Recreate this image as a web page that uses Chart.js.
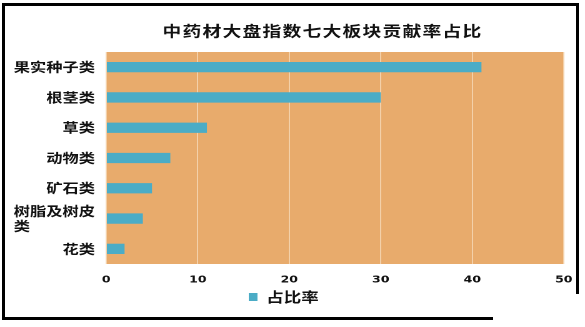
<!DOCTYPE html>
<html>
<head>
<meta charset="utf-8">
<script src="https://cdn.jsdelivr.net/npm/chart.js@4.4.1/dist/chart.umd.min.js"></script>
<style>
  html, body { margin: 0; padding: 0; background: #fff; width: 585px; height: 327px; overflow: hidden; }
  #frame { position: absolute; left: 2px; top: 3px; width: 571px; height: 311px; border: 3px solid #000; }
  #wrap { position: absolute; left: 0; top: 0; width: 468px; height: 327px; transform: scaleX(1.25); transform-origin: 0 0; }
  #corner { position: absolute; left: 493px; top: 294px; width: 92px; height: 33px; background: #fff; }
</style>
</head>
<body>
<div id="frame"></div>
<div id="wrap"><canvas id="chart"></canvas></div>
<div id="corner"></div>
<script>
const TITLE = '中药材大盘指数七大板块贡献率占比';
const SERIES_NAME = '占比率';
const categories = ['果实种子类', '根茎类', '草类', '动物类', '矿石类', ['树脂及树皮', '类　　　　'], '花类'];
const shares = [41, 30, 11, 7, 5, 4, 2];
const X_MIN = 0, X_MAX = 50, X_STEP = 10;

const CJK = '"Noto Sans CJK SC", "Noto Sans", sans-serif';

// orange plot background
const plotBackground = {
  id: 'plotBackground',
  beforeDraw(chart) {
    const { ctx, chartArea: a } = chart;
    ctx.save();
    ctx.fillStyle = '#E8AB6C';
    ctx.fillRect(a.left, a.top, a.right - a.left, a.bottom - a.top);
    ctx.restore();
  }
};

// title sits over the plot, a little left of its centre
const sheetTitle = {
  id: 'sheetTitle',
  afterDraw(chart) {
    const { ctx, chartArea: a } = chart;
    ctx.save();
    ctx.font = 'bold 15px ' + CJK;
    ctx.letterSpacing = '1px';
    ctx.fillStyle = '#111';
    ctx.textAlign = 'center';
    ctx.textBaseline = 'middle';
    ctx.fillText(TITLE, (a.left + a.right) / 2 - 10, 31);
    ctx.restore();
  }
};

new Chart(document.getElementById('chart'), {
  type: 'bar',
  data: {
    labels: categories,
    datasets: [{
      label: SERIES_NAME,
      data: shares,
      backgroundColor: '#4BACC6',
      borderWidth: 0,
      barPercentage: 0.34,
      categoryPercentage: 1
    }]
  },
  options: {
    indexAxis: 'y',
    responsive: true, maintainAspectRatio: false,
    devicePixelRatio: 2,
    animation: false,
    layout: { padding: { top: 52, right: 14, left: 0, bottom: 13 } },
    plugins: {
      title: { display: false },
      tooltip: { enabled: false },
      legend: {
        position: 'bottom',
        labels: { boxWidth: 7, boxHeight: 8, padding: 4, color: '#111', font: { family: CJK, size: 14, weight: 'bold' } }
      }
    },
    scales: {
      x: {
        min: X_MIN, max: X_MAX,
        ticks: { stepSize: X_STEP, padding: 10, color: '#111', font: { family: '"DejaVu Sans", sans-serif', size: 10, weight: 'bold' } },
        grid: { color: '#F3D0A9', lineWidth: 1, drawTicks: false },
        border: { display: false },
        afterFit: s => { s.height = 22; }
      },
      y: {
        ticks: { autoSkip: false, padding: 9, color: '#111', font: { family: CJK, size: 13, weight: 'bold', lineHeight: 1.15 } },
        grid: { display: false, drawTicks: false },
        border: { display: false },
        afterFit: s => { s.width = 85; }
      }
    }
  },
  plugins: [plotBackground, sheetTitle]
});
</script>
</body>
</html>
